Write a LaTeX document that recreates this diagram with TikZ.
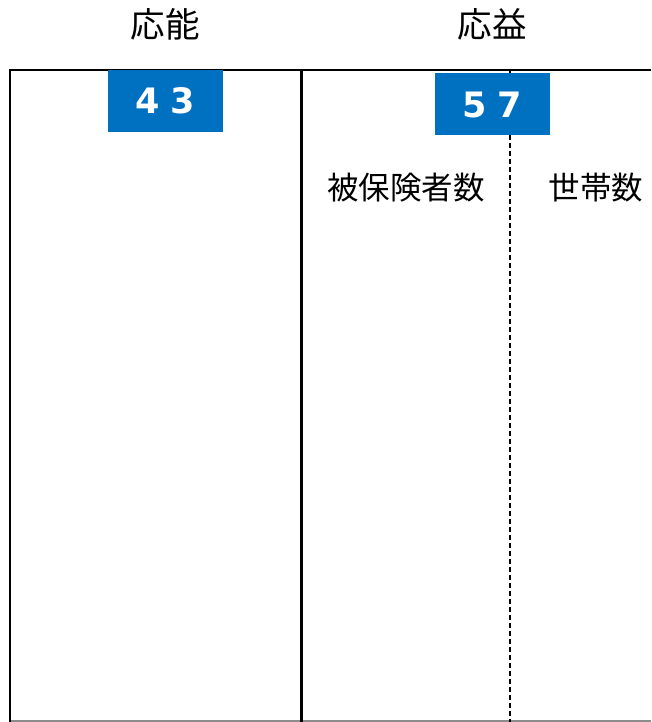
\documentclass[tikz,border=0pt]{standalone}
\usepackage{fontspec}
\newfontfamily\jpfont{Noto Sans CJK JP}
\newfontfamily\numfont{DejaVu Sans}[BoldFont={DejaVu Sans Bold}]
\definecolor{boxblue}{HTML}{0070C0}

\tikzset{
  head/.style={font=\jpfont\fontsize{34.5}{40}\selectfont},
  colhead/.style={font=\jpfont\fontsize{31.5}{38}\selectfont},
  ratio/.style={fill=boxblue, text=white, minimum width=115pt, minimum height=62pt,
    inner sep=0pt, font=\numfont\bfseries\fontsize{35}{42}\selectfont},
  frame/.style={line width=2.6pt},
}

\begin{document}
\begin{tikzpicture}[x=1pt,y=-1pt]
\useasboundingbox (0,0) rectangle (651,722);

% Draw the headings
\node[head] (noh) at (165,24) {応能};
\node[head] (eki) at (492,24) {応益};

% Draw the frame
\draw[black!45, line width=1.2pt] (10,721) -- (651,721);
\draw[frame] (10,722) -- (10,70) -- (651,70);
\draw[frame] (301.5,70) -- (301.5,722);
\draw[dash pattern=on 5pt off 3pt, line width=1.3pt] (510,71) -- (510,722);

% Draw the ratio boxes
\node[ratio] (r43) at (165.5,101) {4\hspace{0.3em}3};
\node[ratio] (r57) at (492.5,104.5) {5\hspace{0.3em}7};

% Label the sub columns
\node[colhead] (hihoken) at (406,188) {被保険者数};
\node[colhead] (setai) at (596,188) {世帯数};

\end{tikzpicture}
\end{document}
